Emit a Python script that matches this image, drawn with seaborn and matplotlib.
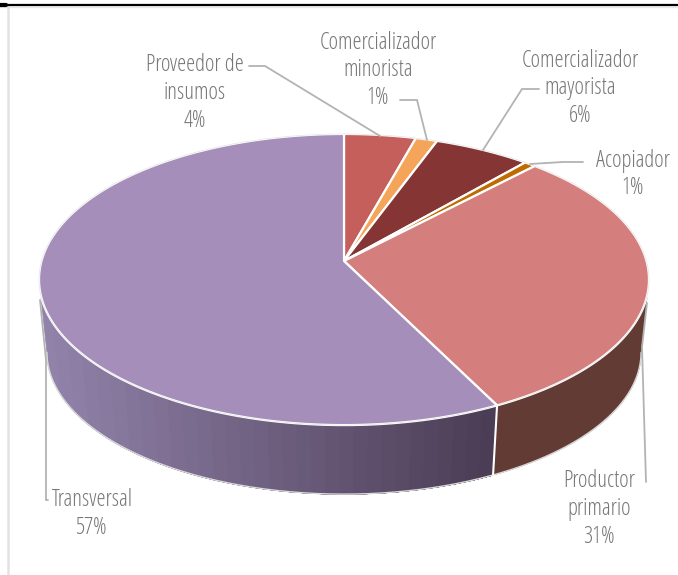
import numpy as np
import matplotlib
matplotlib.use("Agg")
import matplotlib.pyplot as plt
import seaborn as sns
from matplotlib.colors import to_rgb

categories = ["Proveedor de\ninsumos", "Comercializador\nminorista", "Comercializador\nmayorista",
              "Acopiador", "Productor\nprimario", "Transversal"]
values = [4.3, 1.3, 5.8, 0.7, 30.5, 57.4]
pct_labels = ["4%", "1%", "6%", "1%", "31%", "57%"]
colors = ["#C55F5C", "#F4A55A", "#843534", "#C06B00", "#D47F7D", "#A58EBA"]

sns.set_theme(style="white")
plt.rcParams['font.family'] = ['Open Sans', 'DejaVu Sans']
palette = sns.color_palette(colors)

W, H = 678, 575
fig = plt.figure(figsize=(W / 100, H / 100), dpi=100, facecolor="white")
ax = fig.add_axes([0, 0, 1, 1])
ax.set_xlim(0, W)
ax.set_ylim(H, 0)
ax.axis("off")

# perspective projection of the pie disc
CX, CY, A, B, K = 344, 261, 302.5, 143.2, 0.1273
CY2, S = 334.3, 0.974


def top(t):
    u, v = np.sin(t), np.cos(t)
    w = 1 + K * v
    return CX + A * u / w, CY - B * v / w


def bottom(t):
    u, v = np.sin(t), np.cos(t)
    w = 1 + K * v
    return CX + S * A * u / w, CY2 - S * B * v / w


def wall(t_from, t_to, col, n=80):
    tt = np.linspace(t_from, t_to, n)
    xa, ya = top(tt)
    xb, yb = bottom(tt)
    ax.fill(np.r_[xa, xb[::-1]], np.r_[ya, yb[::-1]], color=col, lw=0.5, zorder=1)


edges = np.concatenate([[0], np.cumsum(values)]) / np.sum(values) * 2 * np.pi
T_RIGHT = np.arccos(-K)
T_LEFT = 2 * np.pi - np.arccos(-K)

# side wall: each band is painted over the previous, lighter one
wall(T_RIGHT, edges[5], "#633B35", 160)

LEFT_C = np.array(to_rgb("#9182AA"))
RIGHT_C = np.array(to_rgb("#4B3D55"))
n_bands = 32
fine = np.linspace(edges[5], T_LEFT, 800)
fine_x = bottom(fine)[0]
band_x = np.linspace(fine_x[-1], fine_x[0], n_bands + 1)[:-1]
for i, bx in enumerate(band_x):
    t_end = np.interp(-bx, -fine_x, fine)
    f = 1 - i / (n_bands - 1)
    wall(edges[5], t_end, tuple(RIGHT_C + (LEFT_C - RIGHT_C) * f), 200)

# outline of the lower rim and the divider on the wall
tt = np.linspace(T_RIGHT, T_LEFT, 300)
ax.plot(*bottom(tt), color="#d9d9d9", lw=1.0, zorder=2)
ax.plot([top(edges[5])[0], bottom(edges[5])[0]], [top(edges[5])[1], bottom(edges[5])[1]],
        color="white", lw=1.5, zorder=2)

# top face
for i, col in enumerate(palette):
    tt = np.linspace(edges[i], edges[i + 1], 200)
    x, y = top(tt)
    ax.fill(np.r_[CX, x], np.r_[CY, y], facecolor=col, edgecolor="white", lw=1.6,
            joinstyle="round", zorder=3)

# thin outline just outside the top rim
tt = np.linspace(0, 2 * np.pi, 500)
ax.plot(*top(tt), color="#e4e4e4", lw=0.5, zorder=4)

# leader lines
leaders = [
    ([249, 265, 380], [66, 66, 136]),
    ([400, 417, 427], [100, 100, 140]),
    ([539, 522, 483], [89, 89, 150]),
    ([583, 563, 530], [162, 162, 164]),
    ([646, 642, 647], [482, 347, 303]),
    ([48, 46, 46, 40], [500, 500, 360, 300]),
]
for xs, ys in leaders:
    ax.plot(xs, ys, color="#b3b3b3", lw=1.3, zorder=5, solid_joinstyle="miter")

# labels
label_pos = [(194.5, 93), (378, 70.5), (580, 88.5), (633, 174.5), (599, 509), (92, 514)]
for (lx, ly), name, pct in zip(label_pos, categories, pct_labels):
    ax.text(lx, ly, f"{name}\n{pct}", ha="center", va="center", color="#777777",
            fontsize=16.4, fontstretch="condensed", linespacing=1.22, zorder=6)

# page frame
ax.plot([0, W], [4.5, 4.5], color="black", lw=1.6, zorder=7)
ax.plot([0, 6], [5, 5], color="black", lw=3, zorder=7)
ax.plot([0, W], [6.5, 6.5], color="#e8e8e8", lw=1.0, zorder=6)
ax.plot([7.5, 7.5], [6, H], color="#e2e2e2", lw=1.8, zorder=6)

fig.savefig("out.png", dpi=100, facecolor="white")
